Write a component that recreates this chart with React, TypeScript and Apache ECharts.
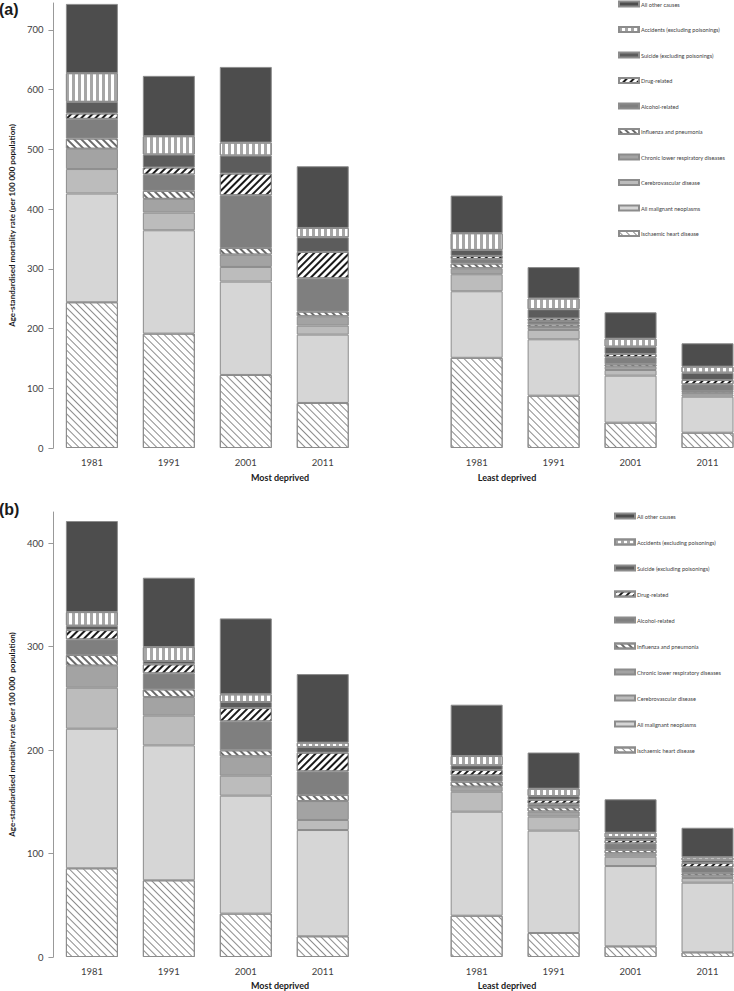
import React, { useEffect, useRef } from "react";
import * as echarts from "echarts";

// ---------- data ----------
const categories = ["1981", "1991", "2001", "2011", "", "1981", "1991", "2001", "2011"];
const groupLabels = ["Most deprived", "Least deprived"];
const yTicksA = [0, 100, 200, 300, 400, 500, 600, 700];
const yTicksB = [0, 100, 200, 300, 400];

// cause names, bottom of stack to top
const causes = [
  "Ischaemic heart disease",
  "All malignant neoplasms",
  "Cerebrovascular disease",
  "Chronic lower respiratory diseases",
  "Influenza and pneumonia",
  "Alcohol-related",
  "Drug-related",
  "Suicide (excluding poisonings)",
  "Accidents (excluding poisonings)",
  "All other causes",
];

// Panel (a): 4 most deprived years then 4 least deprived years
const ihdA = [244, 191.5, 122.3, 75.4, 151, 87.6, 42.4, 25.6];
const maligA = [182, 173, 156.3, 114.4, 111.4, 94.4, 78.7, 60.3];
const cerebroA = [41, 29.6, 24.5, 15.1, 28.5, 15.6, 9.5, 4];
const chronicA = [34, 23, 20.7, 15.6, 10, 5, 5.6, 2.7];
const fluA = [17, 13.4, 11.1, 7.8, 7.8, 4.2, 4, 2.9];
const alcoholA = [33, 27.3, 88.2, 55.8, 7.8, 5.9, 11.7, 11.2];
const drugA = [9, 11.8, 36.3, 44.1, 5.1, 4.2, 5.5, 7.2];
const suicideA = [19.5, 21.7, 30.2, 24.6, 10, 15.4, 12.3, 12.2];
const accidentsA = [48, 30.7, 21.7, 15.6, 28, 18, 13.3, 10.1];
const otherA = [116, 101, 126.7, 103.3, 63, 52.6, 44.2, 39.1];

// Panel (b)
const ihdB = [85.7, 74.1, 41.9, 20, 39.9, 23.2, 10.3, 4.5];
const maligB = [134.9, 130.4, 114, 102.7, 100.5, 98.9, 77.6, 67.3];
const cerebroB = [39.6, 28.7, 19.3, 9.7, 19.3, 13.5, 9, 4.5];
const chronicB = [21.3, 18, 18.7, 18.3, 4.9, 5, 3.3, 2.3];
const fluB = [10.3, 7.4, 5.8, 5.8, 4.8, 4, 3.2, 2.3];
const alcoholB = [15.1, 15.5, 28, 22.9, 6.1, 3.5, 6.4, 5.8];
const drugB = [9, 8.7, 12.9, 18, 5.2, 3.8, 3.2, 4.1];
const suicideB = [4.2, 3.2, 5.8, 5.5, 4.5, 3.6, 2.6, 2.6];
const accidentsB = [13.2, 13.5, 7.4, 4.2, 9, 7.1, 4.5, 2.9];
const otherB = [88, 67, 73.4, 66.3, 49.6, 35, 32.3, 28.6];

const panelA = [ihdA, maligA, cerebroA, chronicA, fluA, alcoholA, drugA, suicideA, accidentsA, otherA];
const panelB = [ihdB, maligB, cerebroB, chronicB, fluB, alcoholB, drugB, suicideB, accidentsB, otherB];

// ---------- styles ----------
const BORDER = "#8c8c8c";
const styles: any[] = [
  { color: "#ffffff", decal: { symbol: "rect", symbolSize: 1, color: "#8c8c8c", dashArrayX: [1, 0], dashArrayY: [1, 4], rotation: Math.PI / 4 } },
  { color: "#d6d6d6" },
  { color: "#bcbcbc" },
  { color: "#a3a3a3" },
  { color: "#ffffff", decal: { symbol: "rect", symbolSize: 1, color: "#6a6a6a", dashArrayX: [1, 0], dashArrayY: [2, 3], rotation: Math.PI / 4 } },
  { color: "#7f7f7f" },
  { color: "#ffffff", decal: { symbol: "rect", symbolSize: 1, color: "#1a1a1a", dashArrayX: [1, 0], dashArrayY: [2, 3], rotation: -Math.PI / 4 } },
  { color: "#5c5c5c" },
  { color: "#ffffff", decal: { symbol: "rect", symbolSize: 1, color: "#a6a6a6", dashArrayX: [3, 2.5], dashArrayY: [1, 0], rotation: 0 } },
  { color: "#4d4d4d" },
];

const FONT = "Lato, 'Open Sans', sans-serif";
const LABEL_COLOR = "#404040";

function withGap(vals: number[]) {
  return [...vals.slice(0, 4), null, ...vals.slice(4)];
}

export default function App() {
  const ref = useRef<HTMLDivElement>(null);

  useEffect(() => {
    if (!ref.current) return;
    const chart = echarts.init(ref.current, undefined, { renderer: "svg" });

    const grids = [
      { left: 41, top: 3, width: 705, height: 445 },
      { left: 41, top: 512, width: 705, height: 445 },
    ];

    const makeY = (gridIndex: number, max: number, ticks: number[], name: string) => ({
      type: "value",
      gridIndex,
      min: 0,
      max,
      name,
      nameLocation: "middle",
      nameGap: 32,
      nameTextStyle: { fontFamily: FONT, fontSize: 8, fontWeight: "bold", color: "#1a1a1a" },
      axisLine: { show: true, lineStyle: { color: "#999999", width: 1 } },
      axisTick: { show: true, length: 5, customValues: ticks, lineStyle: { color: "#999999" } },
      axisLabel: { customValues: ticks, fontFamily: FONT, fontSize: 9.5, color: LABEL_COLOR, margin: 10 },
      splitLine: { show: false },
    });

    const makeX = (gridIndex: number) => ({
      type: "category",
      gridIndex,
      data: categories,
      axisLine: { show: false },
      axisTick: { show: false },
      axisLabel: { interval: 0, fontFamily: FONT, fontSize: 9.5, color: LABEL_COLOR, margin: 9 },
    });

    const series: any[] = [];
    [panelA, panelB].forEach((panel, p) => {
      panel.forEach((vals, i) => {
        series.push({
          type: "bar",
          name: causes[i],
          xAxisIndex: p,
          yAxisIndex: p,
          stack: "s" + p,
          barWidth: 52,
          data: withGap(vals),
          itemStyle: { ...styles[i], borderColor: BORDER, borderWidth: 1 },
          emphasis: { disabled: true },
        });
      });
    });

    const legendNames = [...causes].reverse();
    const makeLegend = (left: number, top: number, gap: number) => ({
      orient: "vertical",
      left,
      top,
      padding: 0,
      itemWidth: 20,
      itemHeight: 5,
      itemGap: gap,
      icon: "rect",
      selectedMode: false,
      data: legendNames,
      textStyle: { fontFamily: FONT, fontSize: 5.6, color: LABEL_COLOR, lineHeight: 8, padding: [0, 0, 0, -3] },
    });

    const txt = (x: number, y: number, text: string, size: number, family: string) => ({
      type: "text",
      x,
      y,
      style: { text, fontSize: size, fontWeight: "bold", fontFamily: family, fill: "#1a1a1a", textAlign: "center", textVerticalAlign: "middle" },
    });

    chart.setOption({
      animation: false,
      backgroundColor: "#ffffff",
      grid: grids,
      xAxis: [makeX(0), makeX(1)],
      yAxis: [
        makeY(0, 745, yTicksA, "Age-standardised mortality rate (per 100 000 population)"),
        makeY(1, 430, yTicksB, "Age-standardised mortality rate (per 100 000  population)"),
      ],
      legend: [makeLegend(618, 0, 17.5), makeLegend(614, 512, 18)],
      series,
      graphic: [
        { type: "text", x: -1, y: 1, style: { text: "(a)", fontSize: 16, fontWeight: "bold", fontFamily: "'Liberation Sans', Arial, sans-serif", fill: "#1a1a1a" } },
        { type: "text", x: -1, y: 501, style: { text: "(b)", fontSize: 16, fontWeight: "bold", fontFamily: "'Liberation Sans', Arial, sans-serif", fill: "#1a1a1a" } },
        txt(280, 477, groupLabels[0], 9, FONT),
        txt(507, 477, groupLabels[1], 9, FONT),
        txt(280, 985, groupLabels[0], 9, FONT),
        txt(507, 985, groupLabels[1], 9, FONT),
      ],
    });

    return () => chart.dispose();
  }, []);

  return (
    <div style={{ position: "absolute", left: 0, top: 0, width: 734, height: 991, overflow: "hidden", background: "#fff" }}>
      <div ref={ref} style={{ width: 760, height: 991 }} />
    </div>
  );
}
